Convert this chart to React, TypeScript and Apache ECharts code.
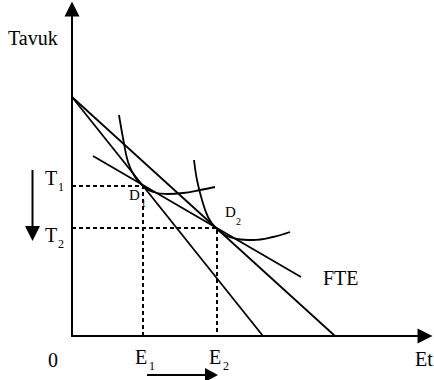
import React, { useEffect, useRef } from "react";
import * as echarts from "echarts";

// Data (units: arbitrary quantities, origin at 0/0)
const budgetLine1: number[][] = [[0, 239], [191, 0]];
const budgetLine2: number[][] = [[0, 239], [263, 0]];
const fteLine: number[][] = [[21, 180], [229, 59]];
const indifference1: number[][] = [
  [47, 221], [51, 198], [56, 174], [63, 159], [71, 150], [81, 144],
  [95, 142], [111, 143], [128, 146], [143, 149],
];
const indifference2: number[][] = [
  [122, 176], [125, 156], [130, 136], [136, 119], [143, 109], [153, 101],
  [165, 97], [181, 96], [201, 99], [218, 104],
];
const eValues = [71, 145];
const tValues = [150, 108];
const eSubs = ["1", "2"];
const tSubs = ["1", "2"];
const dSubs = ["1", "2"];
const xName = "Et";
const yName = "Tavuk";
const originLabel = "0";
const fteLabel = "FTE";

const FONT = "Liberation Serif";

function txt(x: number, y: number, text: string, size: number, align = "left") {
  return {
    type: "text",
    x,
    y,
    silent: true,
    style: {
      text,
      fontFamily: FONT,
      fontSize: size,
      fill: "#000",
      textAlign: align,
      textVerticalAlign: "middle",
      align,
      verticalAlign: "middle",
    },
  };
}

export default function App() {
  const ref = useRef<HTMLDivElement>(null);
  useEffect(() => {
    if (!ref.current) return;
    const chart = echarts.init(ref.current, undefined, { renderer: "svg" });
    const lineStyle = { color: "#000", width: 1.8 };
    const dashStyle = { color: "#000", width: 2, type: [4, 3] as any };
    const mk = (data: number[][], smooth: any = false, ls: any = lineStyle) => ({
      type: "line",
      data,
      smooth,
      symbol: "none",
      showSymbol: false,
      silent: true,
      lineStyle: ls,
      z: 3,
    });
    const axisCommon = {
      type: "value",
      axisLine: {
        show: true,
        onZero: false,
        symbol: ["none", "triangle"],
        symbolSize: [15, 15],
        lineStyle: { color: "#000", width: 2 },
      },
      axisTick: { show: false },
      axisLabel: { show: false },
      splitLine: { show: false },
    };
    chart.setOption({
      animation: false,
      textStyle: { fontFamily: FONT },
      grid: { left: 72, right: 9, top: 9, bottom: 44 },
      xAxis: { ...axisCommon, min: 0, max: 353 },
      yAxis: { ...axisCommon, min: 0, max: 327 },
      series: [
        mk(budgetLine1),
        mk(budgetLine2),
        mk(fteLine),
        mk(indifference1, 0.4),
        mk(indifference2, 0.4),
        mk([[0, tValues[0]], [eValues[0], tValues[0]], [eValues[0], 0]], false, dashStyle),
        mk([[0, tValues[1]], [eValues[1], tValues[1]], [eValues[1], 0]], false, dashStyle),
      ],
    });

    const p = (x: number, y: number) => chart.convertToPixel({ gridIndex: 0 }, [x, y]) as number[];
    const o = p(0, 0);
    const xEnd = p(353, 0);
    const g: any[] = [];
    g.push(txt(8, 38, yName, 20));
    g.push(txt(o[0] - 19, o[1] + 24, originLabel, 20, "center"));
    g.push(txt(xEnd[0] - 10, o[1] + 23, xName, 20));
    eValues.forEach((e, i) => {
      const q = p(e, 0);
      g.push(txt(q[0] - 8, q[1] + 21, "E", 20));
      g.push(txt(q[0] + 6, q[1] + 30, eSubs[i], 12));
    });
    tValues.forEach((t, i) => {
      const q = p(0, t);
      const dy = i === 0 ? -8 : 7;
      g.push(txt(q[0] - 27, q[1] + dy, "T", 20));
      g.push(txt(q[0] - 14, q[1] + dy + 9, tSubs[i], 12));
    });
    // D labels
    const d1 = p(eValues[0], tValues[0]);
    g.push(txt(d1[0] - 14, d1[1] + 9, "D", 15));
    g.push(txt(d1[0] - 2, d1[1] + 17, dSubs[0], 10));
    const d2 = p(eValues[1], tValues[1]);
    g.push(txt(d2[0] + 8, d2[1] - 16, "D", 15));
    g.push(txt(d2[0] + 19, d2[1] - 7, dSubs[1], 10));
    // FTE label
    const f = p(fteLine[1][0], fteLine[1][1]);
    g.push(txt(f[0] + 22, f[1] + 1, fteLabel, 20));
    // Down arrow (T1 -> T2)
    g.push({ type: "line", silent: true, shape: { x1: 32.5, y1: 170, x2: 32.5, y2: 228 }, style: { stroke: "#000", lineWidth: 2 } });
    g.push({ type: "polygon", silent: true, shape: { points: [[25, 226], [40, 226], [32.5, 241]] }, style: { fill: "#000" } });
    // Right arrow (E1 -> E2)
    g.push({ type: "line", silent: true, shape: { x1: 147, y1: 375, x2: 207, y2: 375 }, style: { stroke: "#000", lineWidth: 2 } });
    g.push({ type: "polygon", silent: true, shape: { points: [[205, 368], [205, 382], [218, 375]] }, style: { fill: "#000" } });
    chart.setOption({ graphic: g });
    return () => chart.dispose();
  }, []);
  return (
    <div
      ref={ref}
      style={{ position: "absolute", left: 0, top: 0, width: 434, height: 380, background: "#fff" }}
    />
  );
}
